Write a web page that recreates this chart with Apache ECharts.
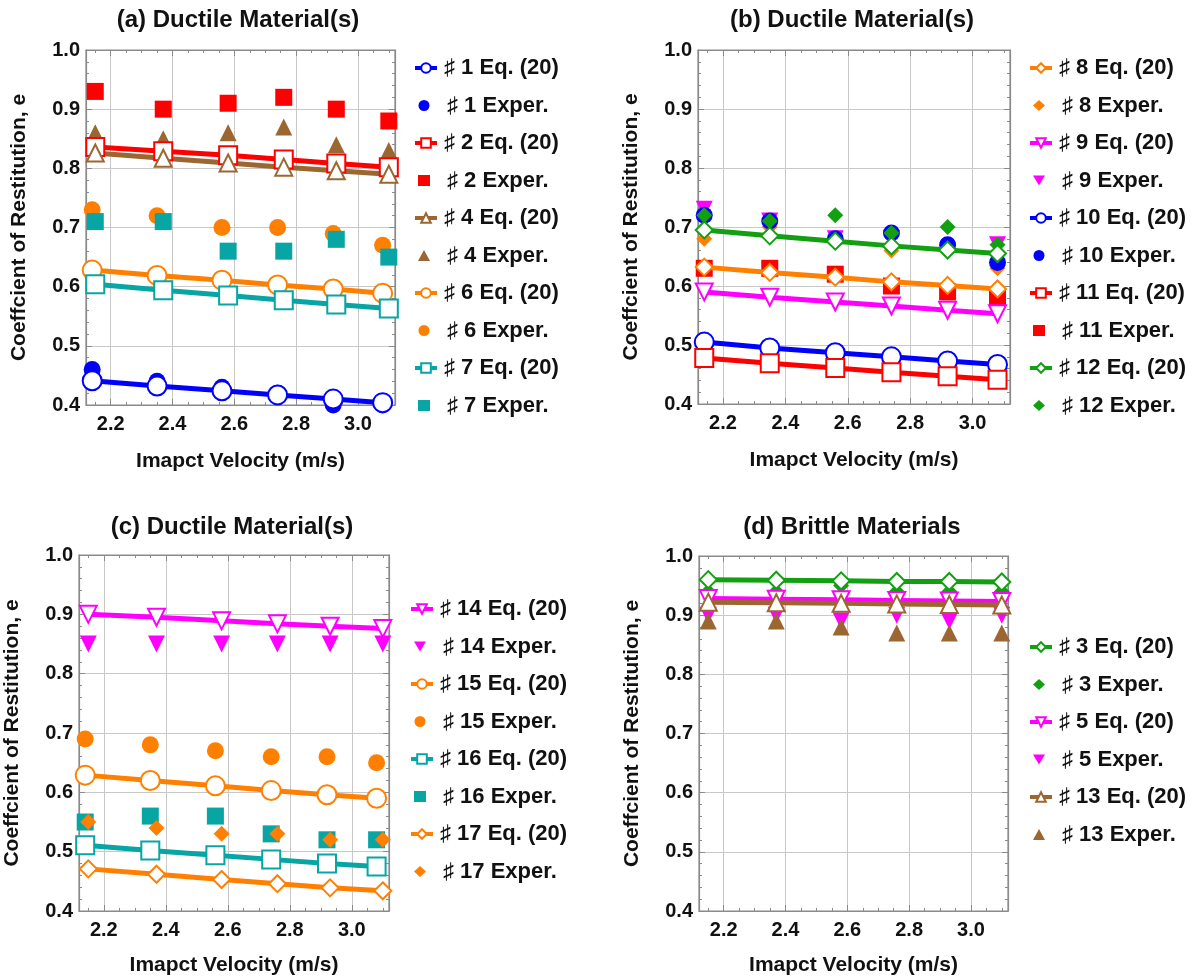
<!DOCTYPE html>
<html>
<head>
<meta charset="utf-8">
<script src="https://cdn.jsdelivr.net/npm/echarts@6/dist/echarts.min.js"></script>
<style>
    html, body { margin: 0; padding: 0; background: #fff; }
    #charts { width: 1198px; height: 980px; }
</style>
</head>
<body>
<div id="charts"></div>
<script>
// impact velocities (m/s)
var vA = [2.14, 2.35, 2.56, 2.74, 2.92, 3.08];
var vB = [2.15, 2.37, 2.58, 2.76, 2.93, 3.10];

// (a)
var eq1 = [0.441, 0.432, 0.424, 0.417, 0.410, 0.404];
var ex1 = [0.46, 0.44, 0.43, 0.42, 0.40, 0.40];
var eq2 = [0.836, 0.829, 0.822, 0.815, 0.808, 0.802];
var ex2 = [0.93, 0.90, 0.91, 0.92, 0.90, 0.88];
var eq4 = [0.826, 0.817, 0.809, 0.802, 0.796, 0.790];
var ex4 = [0.86, 0.85, 0.86, 0.87, 0.84, 0.83];
var eq6 = [0.628, 0.619, 0.611, 0.603, 0.596, 0.589];
var ex6 = [0.73, 0.72, 0.70, 0.70, 0.69, 0.67];
var eq7 = [0.604, 0.594, 0.585, 0.577, 0.570, 0.563];
var ex7 = [0.71, 0.71, 0.66, 0.66, 0.68, 0.65];
// (b)
var eq8 = [0.632, 0.623, 0.615, 0.607, 0.601, 0.595];
var ex8 = [0.68, 0.70, 0.68, 0.66, 0.66, 0.63];
var eq9 = [0.590, 0.581, 0.573, 0.566, 0.559, 0.553];
var ex9 = [0.73, 0.71, 0.68, 0.68, 0.66, 0.67];
var eq10 = [0.505, 0.495, 0.487, 0.480, 0.473, 0.467];
var ex10 = [0.72, 0.71, 0.68, 0.69, 0.67, 0.64];
var eq11 = [0.478, 0.469, 0.461, 0.454, 0.447, 0.441];
var ex11 = [0.63, 0.63, 0.62, 0.60, 0.59, 0.58];
var eq12 = [0.695, 0.685, 0.676, 0.668, 0.661, 0.655];
var ex12 = [0.72, 0.71, 0.72, 0.69, 0.70, 0.67];
// (c)
var eq14 = [0.900, 0.895, 0.889, 0.884, 0.880, 0.876];
var ex14 = [0.85, 0.85, 0.85, 0.85, 0.85, 0.85];
var eq15 = [0.629, 0.620, 0.611, 0.603, 0.596, 0.590];
var ex15 = [0.69, 0.68, 0.67, 0.66, 0.66, 0.65];
var eq16 = [0.511, 0.502, 0.494, 0.487, 0.480, 0.475];
var ex16 = [0.55, 0.56, 0.56, 0.53, 0.52, 0.52];
var eq17 = [0.471, 0.462, 0.453, 0.446, 0.439, 0.434];
var ex17 = [0.55, 0.54, 0.53, 0.53, 0.52, 0.52];
// (d)
var eq3 = [0.960, 0.959, 0.958, 0.957, 0.957, 0.956];
var ex3 = [0.94, 0.94, 0.95, 0.94, 0.94, 0.94];
var eq5 = [0.928, 0.927, 0.926, 0.925, 0.924, 0.923];
var ex5 = [0.90, 0.90, 0.89, 0.90, 0.89, 0.90];
var eq13 = [0.922, 0.921, 0.920, 0.919, 0.918, 0.917];
var ex13 = [0.89, 0.89, 0.88, 0.87, 0.87, 0.87];

var yTicks = [0.4, 0.5, 0.6, 0.7, 0.8, 0.9, 1.0];
var panelTitles = ['(a) Ductile Material(s)', '(b) Ductile Material(s)', '(c) Ductile Material(s)', '(d) Brittle Materials'];
var panelIds = [[1, 2, 4, 6, 7], [8, 9, 10, 11, 12], [14, 15, 16, 17], [3, 5, 13]];

var data = {
    1: [vA, eq1, ex1], 2: [vB, eq2, ex2], 4: [vB, eq4, ex4], 6: [vA, eq6, ex6], 7: [vB, eq7, ex7],
    8: [vA, eq8, ex8], 9: [vA, eq9, ex9], 10: [vA, eq10, ex10], 11: [vA, eq11, ex11], 12: [vA, eq12, ex12],
    14: [vB, eq14, ex14], 15: [vA, eq15, ex15], 16: [vA, eq16, ex16], 17: [vB, eq17, ex17],
    3: [vB, eq3, ex3], 5: [vB, eq5, ex5], 13: [vB, eq13, ex13]
};

(function () {
    var myChart = echarts.init(document.getElementById('charts'));

    var blue = '#0000ff', red = '#ff0000', brown = '#9c6630', orange = '#ff8000',
        teal = '#08a5a5', magenta = '#ff00ff', green = '#12a012';
    // color, symbol, rotation
    var look = {
        1: [blue, 'Circle', 0], 2: [red, 'Rect', 0], 4: [brown, 'Triangle', 0], 6: [orange, 'Circle', 0], 7: [teal, 'Rect', 0],
        8: [orange, 'Diamond', 0], 9: [magenta, 'Triangle', 180], 10: [blue, 'Circle', 0], 11: [red, 'Rect', 0], 12: [green, 'Diamond', 0],
        14: [magenta, 'Triangle', 180], 15: [orange, 'Circle', 0], 16: [teal, 'Rect', 0], 17: [orange, 'Diamond', 0],
        3: [green, 'Diamond', 0], 5: [magenta, 'Triangle', 180], 13: [brown, 'Triangle', 0]
    };
    var eqSize = {Circle: 19, Rect: 18, Triangle: 17, Diamond: 17};
    var exSize = {Circle: 17, Rect: 17, Triangle: 17, Diamond: 16};
    var downTriangle = 'path://M0,0L20,0L10,17Z';

    var grids = [
        {left: 86, top: 50, width: 309, height: 355},
        {left: 698, top: 50, width: 312, height: 354},
        {left: 79, top: 555, width: 310, height: 356},
        {left: 699, top: 556, width: 309, height: 355}
    ];
    var titlePos = [[238, 20], [852, 20], [232, 527], [852, 527]];
    var legendPos = [[408, 52], [1023, 52], [404, 593], [1023, 631]];
    var xNameGap = [46, 46, 44, 44];
    var rowStep = 37.5;

    var fontFamily = '"Liberation Sans", Arial, sans-serif';
    var frame = '#8a8a8a', gridGray = '#c8c8c8';

    function fmt(v) { return v.toFixed(1); }

    var legendText = {fontFamily: fontFamily, fontWeight: 'bold', fontSize: 22, lineHeight: 22, color: '#111'};

    var xAxis = [], yAxis = [], legend = [], graphic = [], series = [];

    grids.forEach(function (g, p) {
        var tick = {show: true, inside: true, length: 6, lineStyle: {color: frame}};
        var minor = {show: true, splitNumber: 4, length: 3, lineStyle: {color: frame}};
        var line = {show: true, onZero: false, lineStyle: {color: frame, width: 1.2}};
        xAxis.push({
            type: 'value', gridIndex: p, position: 'bottom', min: 2.12, max: 3.12, splitNumber: 5,
            name: 'Imapct Velocity (m/s)', nameLocation: 'middle', nameGap: xNameGap[p],
            nameTextStyle: {fontFamily: fontFamily, fontWeight: 'bold', fontSize: 21, color: '#111'},
            axisLine: line, axisTick: tick, minorTick: minor,
            axisLabel: {formatter: fmt, showMinLabel: false, showMaxLabel: false, margin: 9,
                fontFamily: fontFamily, fontWeight: 'bold', fontSize: 20, color: '#111'},
            splitLine: {show: true, showMinLine: false, showMaxLine: false, lineStyle: {color: gridGray}}
        });
        xAxis.push({
            type: 'value', gridIndex: p, position: 'top', min: 2.12, max: 3.12, splitNumber: 5,
            axisLine: line, axisTick: tick, minorTick: minor,
            axisLabel: {show: false}, splitLine: {show: false}
        });
        var yMinor = {show: true, splitNumber: 5, length: 3, lineStyle: {color: frame}};
        yAxis.push({
            type: 'value', gridIndex: p, position: 'left', min: yTicks[0], max: yTicks[yTicks.length - 1], interval: 0.1,
            name: 'Coeffcient of Restitution, e', nameLocation: 'middle', nameGap: 56,
            nameTextStyle: {fontFamily: fontFamily, fontWeight: 'bold', fontSize: 21, color: '#111'},
            axisLine: line, axisTick: tick, minorTick: yMinor,
            axisLabel: {formatter: fmt, margin: 6, fontFamily: fontFamily, fontWeight: 'bold', fontSize: 20, color: '#111'},
            splitLine: {show: true, showMinLine: false, showMaxLine: false, lineStyle: {color: gridGray}}
        });
        yAxis.push({
            type: 'value', gridIndex: p, position: 'right', min: yTicks[0], max: yTicks[yTicks.length - 1], interval: 0.1,
            axisLine: line, axisTick: tick, minorTick: yMinor,
            axisLabel: {show: false}, splitLine: {show: false}
        });

        graphic.push({
            type: 'text', x: titlePos[p][0], y: titlePos[p][1],
            style: {text: panelTitles[p], textAlign: 'center', textVerticalAlign: 'middle',
                font: 'bold 24px ' + fontFamily, fill: '#111'}
        });

        var eqNames = [], exNames = [];
        panelIds[p].forEach(function (id) {
            var d = data[id], lk = look[id];
            var eqName = '\u266F ' + id + ' Eq. (20)', exName = '\u266F ' + id + ' Exper.';
            eqNames.push(eqName);
            exNames.push(lk[2] ? {name: exName, icon: downTriangle} : exName);
            series.push({
                name: eqName, type: 'line', xAxisIndex: 2 * p, yAxisIndex: 2 * p,
                data: d[0].map(function (x, i) { return [x, d[1][i]]; }),
                symbol: 'empty' + lk[1], symbolRotate: lk[2], symbolSize: eqSize[lk[1]],
                showAllSymbol: true, clip: false,
                lineStyle: {color: lk[0], width: 5},
                itemStyle: {color: lk[0], borderWidth: 1.3}
            });
            series.push({
                name: exName, type: 'scatter', xAxisIndex: 2 * p, yAxisIndex: 2 * p,
                data: d[0].map(function (x, i) { return [x, d[2][i]]; }),
                symbol: lk[1].toLowerCase(), symbolRotate: lk[2], symbolSize: exSize[lk[1]],
                itemStyle: {color: lk[0], opacity: 1}
            });
        });

        // Eq. rows and Exper. rows interleave: two legends, each skipping every other row
        legend.push({
            data: eqNames, orient: 'vertical', left: legendPos[p][0], top: legendPos[p][1],
            itemWidth: 22, itemHeight: 12, itemGap: 2 * rowStep - 22, selectedMode: false,
            lineStyle: {width: 4},
            textStyle: Object.assign({padding: [0, 0, 0, 2]}, legendText)
        });
        legend.push({
            data: exNames, orient: 'vertical', left: legendPos[p][0] + 5, top: legendPos[p][1] + rowStep,
            itemWidth: 12, itemHeight: 11, itemGap: 2 * rowStep - 22, selectedMode: false,
            textStyle: Object.assign({padding: [0, 0, 0, 12]}, legendText)
        });
    });

    var option = {
        backgroundColor: '#fff',
        animation: false,
        grid: grids.map(function (g) {
            return {left: g.left, top: g.top, width: g.width, height: g.height,
                show: true, borderColor: frame, borderWidth: 1.2, outerBoundsMode: 'none'};
        }),
        xAxis: xAxis,
        yAxis: yAxis,
        legend: legend,
        graphic: graphic,
        series: series
    };

    myChart.setOption(option);
})();
</script>
</body>
</html>
